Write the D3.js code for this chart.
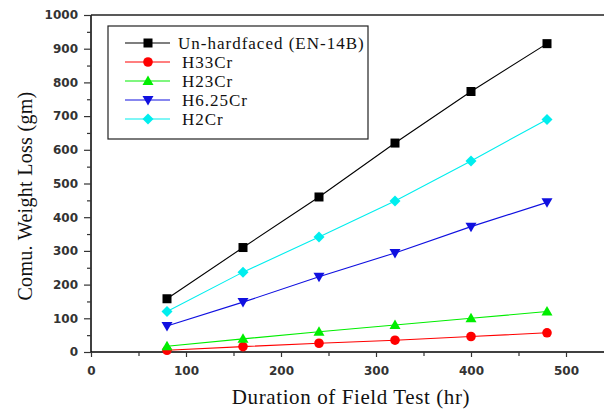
<!DOCTYPE html>
<html><head><meta charset="utf-8">
<script src="https://cdn.jsdelivr.net/npm/d3@7"></script>
<style>body{margin:0;background:#fff}svg{display:block}</style>
</head><body><svg id="c" width="604" height="411"></svg>
<script>
const hours = [80, 160, 240, 320, 400, 480];
const seriesNames = ["Un-hardfaced (EN-14B)", "H33Cr", "H23Cr", "H6.25Cr", "H2Cr"];
const unhardfaced = [158, 310, 460, 620, 773, 915];
const h33cr = [5, 16, 26, 35, 46, 57];
const h23cr = [17, 39, 60, 80, 100, 120];
const h625cr = [77, 148, 223, 294, 372, 444];
const h2cr = [120, 237, 341, 448, 567, 690];
const xTicks = [0, 100, 200, 300, 400, 500];
const yTicks = [0, 100, 200, 300, 400, 500, 600, 700, 800, 900, 1000];

const colors = ["#000000", "#ff0000", "#00ee00", "#1010e0", "#00eeee"];
const shapes = ["square", "circle", "triangle", "triangleDown", "diamond"];
const values = [unhardfaced, h33cr, h23cr, h625cr, h2cr];

const svg = d3.select("#c");
const L = 91, T = 15, R = 604, B = 352;
const x = d3.scaleLinear().domain([0, 540]).range([L, R]);
const y = d3.scaleLinear().domain([0, 1000]).range([B, T]);

function marker(g, shape, color, cx, cy) {
  if (shape === "square") g.append("rect").attr("x", cx-4.5).attr("y", cy-4.5).attr("width", 9).attr("height", 9).attr("fill", color);
  else if (shape === "circle") g.append("circle").attr("cx", cx).attr("cy", cy).attr("r", 4.8).attr("fill", color);
  else if (shape === "triangle") g.append("path").attr("d", `M${cx},${cy-5.5}L${cx+5.5},${cy+4}L${cx-5.5},${cy+4}Z`).attr("fill", color);
  else if (shape === "triangleDown") g.append("path").attr("d", `M${cx},${cy+5.5}L${cx+5.5},${cy-4}L${cx-5.5},${cy-4}Z`).attr("fill", color);
  else if (shape === "diamond") g.append("path").attr("d", `M${cx},${cy-5.5}L${cx+5.5},${cy}L${cx},${cy+5.5}L${cx-5.5},${cy}Z`).attr("fill", color);
}

// axes
const tickFont = "'DejaVu Sans', Verdana, sans-serif";
const xAxis = d3.axisBottom(x).tickValues(xTicks).tickSize(5).tickPadding(9).tickFormat(d3.format("d"));
const gx = svg.append("g").attr("transform", `translate(0,${B})`).call(xAxis);
gx.select(".domain").attr("d", `M${L},0H${R}`).attr("stroke-width", 1.5);
const xMinor = d3.axisBottom(x).tickValues([50,150,250,350,450]).tickSize(4).tickFormat("");
svg.append("g").attr("transform", `translate(0,${B})`).call(xMinor).select(".domain").remove();

const yAxis = d3.axisLeft(y).tickValues(yTicks).tickSize(7).tickPadding(6).tickFormat(d3.format("d"));
const gy = svg.append("g").attr("transform", `translate(${L},0)`).call(yAxis);
gy.select(".domain").attr("d", `M0,${B}V${T}`).attr("stroke-width", 1.5);
const yMinor = d3.axisLeft(y).tickValues(d3.range(50, 1000, 100)).tickSize(4).tickFormat("");
svg.append("g").attr("transform", `translate(${L},0)`).call(yMinor).select(".domain").remove();

svg.selectAll(".tick text").attr("font-family", tickFont).attr("font-weight", "bold").attr("font-size", 12).attr("fill", "#333");
svg.selectAll(".tick line").attr("stroke", "#333").attr("stroke-width", 1.2);
// top border
svg.append("line").attr("x1", L).attr("x2", R).attr("y1", T).attr("y2", T).attr("stroke", "#222").attr("stroke-width", 1.5);

// series
values.forEach((vals, i) => {
  const g = svg.append("g");
  const line = d3.line().x((d, j) => x(hours[j])).y(d => y(d));
  g.append("path").attr("d", line(vals)).attr("fill", "none").attr("stroke", colors[i]).attr("stroke-width", 1.1);
  vals.forEach((v, j) => marker(g, shapes[i], colors[i], x(hours[j]), y(v)));
});

// legend
const lg = svg.append("g");
lg.append("rect").attr("x", 108).attr("y", 26).attr("width", 260).attr("height", 113).attr("fill", "#fff").attr("stroke", "#222").attr("stroke-width", 1.2);
const rowY = [43, 62, 81, 100, 119];
seriesNames.forEach((n, i) => {
  const yy = rowY[i];
  lg.append("line").attr("x1", 125).attr("x2", 170).attr("y1", yy).attr("y2", yy).attr("stroke", colors[i]).attr("stroke-width", 1.2);
  marker(lg, shapes[i], colors[i], 148, yy);
  lg.append("text").attr("x", i === 0 ? 178 : 182).attr("y", yy + 6).attr("font-family", "'Liberation Serif', 'Times New Roman', serif").attr("font-size", 17).attr("letter-spacing", 1).attr("fill", "#111").text(n);
});

// titles
svg.append("text").attr("x", 351).attr("y", 404).attr("text-anchor", "middle").attr("font-family", "'Liberation Serif', 'Times New Roman', serif").attr("font-size", 21).attr("letter-spacing", 0.6).attr("fill", "#111").text("Duration of Field Test (hr)");
svg.append("text").attr("transform", "translate(32,196) rotate(-90)").attr("text-anchor", "middle").attr("font-family", "'Liberation Serif', 'Times New Roman', serif").attr("font-size", 20).attr("letter-spacing", 0.3).attr("fill", "#111").text("Comu. Weight Loss (gm)");
</script></body></html>
